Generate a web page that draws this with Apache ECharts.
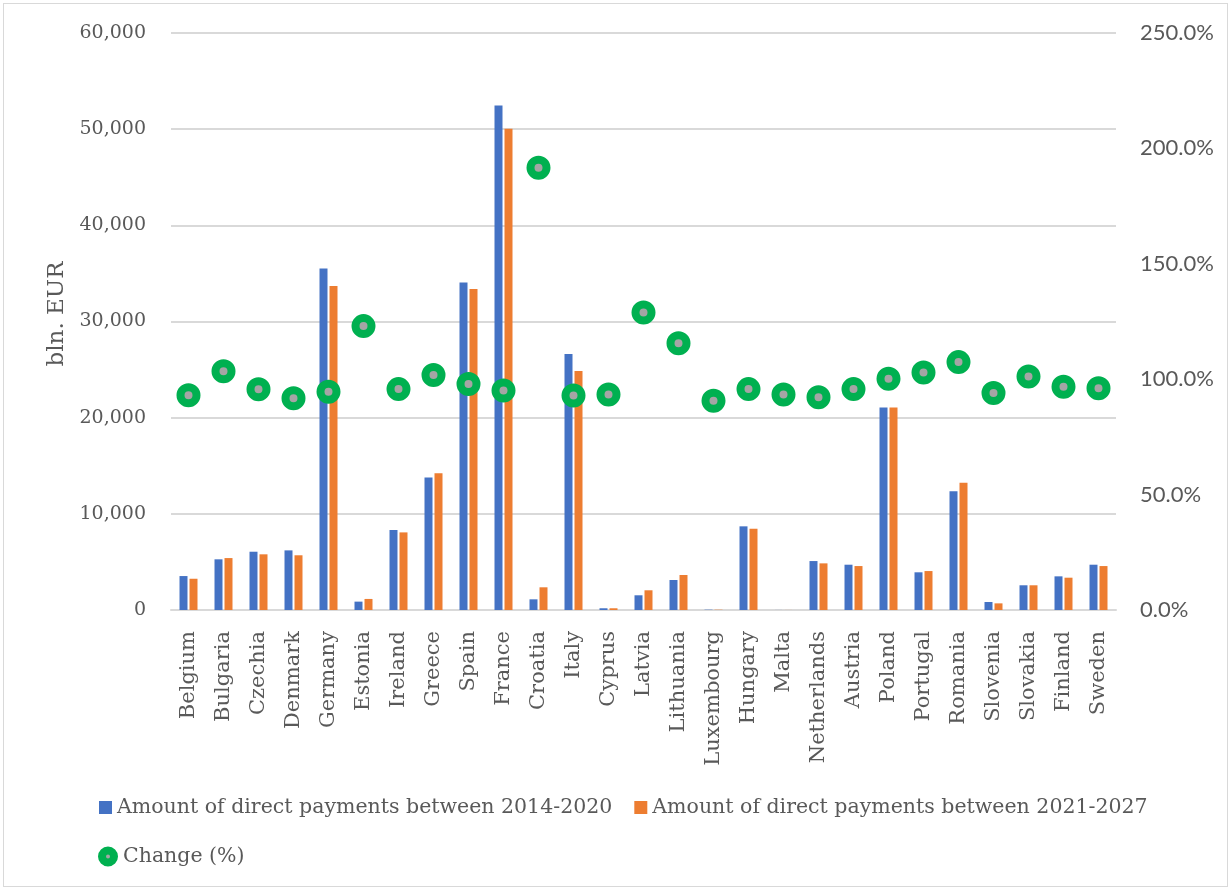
<!DOCTYPE html>
<html><head><meta charset="utf-8">
<script src="https://cdn.jsdelivr.net/npm/echarts@6/dist/echarts.min.js"></script>
<style>
html,body{margin:0;padding:0;background:#fff;}
#frame{position:absolute;left:3px;top:3px;width:1223px;height:882px;border:1px solid #d9d9d9;}
#c{position:absolute;left:0;top:0;width:1231px;height:890px;}
</style></head>
<body>
<div id="frame"></div>
<div id="c"></div>
<script>
const countries = ["Belgium","Bulgaria","Czechia","Denmark","Germany","Estonia","Ireland","Greece","Spain","France","Croatia","Italy","Cyprus","Latvia","Lithuania","Luxembourg","Hungary","Malta","Netherlands","Austria","Poland","Portugal","Romania","Slovenia","Slovakia","Finland","Sweden"];
const payments2014_2020 = [3530,5270,6060,6200,35520,870,8320,13790,34060,52460,1110,26610,180,1530,3120,33,8700,5,5090,4710,21070,3920,12340,830,2570,3500,4710];
const payments2021_2027 = [3250,5400,5790,5690,33680,1150,8070,14210,33370,50040,2360,24840,180,2050,3640,30,8450,5,4850,4570,21070,4050,13240,690,2570,3360,4570];
const changePct = [93.0,103.4,95.6,91.7,94.6,123.0,95.7,101.8,97.9,95.1,191.6,92.9,93.4,128.9,115.6,90.7,95.7,93.4,92.2,95.7,100.2,102.9,107.4,94.0,101.2,96.7,96.1];
const leftTicks = {min:0,max:60000,interval:10000};
const rightTicks = {min:0,max:250,interval:50};
const seriesNames = ["Amount of direct payments between 2014-2020","Amount of direct payments between 2021-2027","Change (%)"];
const yAxisTitle = "bln. EUR";

const serif = "DejaVu Serif";
const txt = "#595959";
const chart = echarts.init(document.getElementById('c'));
chart.setOption({
  animation:false,
  grid:{left:171,right:115,top:33,bottom:280,containLabel:false},
  legend:[
    {data:[seriesNames[0],seriesNames[1]],left:99,top:797,itemWidth:13,itemHeight:13,itemGap:22,
     icon:'rect',textStyle:{fontFamily:serif,fontSize:20.5,color:txt},padding:0},
    {data:[{name:seriesNames[2],itemStyle:{color:'#a5a5a5',borderColor:'#00b050',borderWidth:8}}],
     left:98,top:846,itemWidth:12,itemHeight:12,icon:'circle',
     textStyle:{fontFamily:serif,fontSize:20.5,color:txt,padding:[0,0,0,4]},padding:0}
  ],
  xAxis:{type:'category',data:countries,
    axisLine:{lineStyle:{color:'#d9d9d9',width:2}},axisTick:{show:false},
    axisLabel:{rotate:90,interval:0,fontFamily:serif,fontSize:21,color:txt,margin:21}},
  yAxis:[
    {type:'value',min:leftTicks.min,max:leftTicks.max,interval:leftTicks.interval,
     axisLabel:{fontFamily:serif,fontSize:19,color:txt,margin:25,
       formatter:v=>v.toLocaleString('en-US')},
     splitLine:{lineStyle:{color:'#d9d9d9',width:2}},axisLine:{show:false},axisTick:{show:false}},
    {type:'value',min:rightTicks.min,max:rightTicks.max,interval:rightTicks.interval,
     axisLabel:{fontFamily:'Lato',fontSize:22,color:txt,margin:24,
       formatter:v=>v.toFixed(1)+'%'},
     splitLine:{show:false},axisLine:{show:false},axisTick:{show:false}}
  ],
  graphic:[{type:'text',x:57,y:314,rotation:Math.PI/2,
    style:{text:yAxisTitle,fontFamily:serif,fontSize:23,fill:txt,textAlign:'center',textVerticalAlign:'middle'}}],
  series:[
    {name:seriesNames[0],type:'bar',data:payments2014_2020,barWidth:8,barGap:'25%',
     itemStyle:{color:'#4472c4'}},
    {name:seriesNames[1],type:'bar',data:payments2021_2027,barWidth:8,barGap:'25%',
     itemStyle:{color:'#ed7d31'}},
    {name:seriesNames[2],type:'scatter',yAxisIndex:1,data:changePct,symbol:'circle',symbolSize:16,
     itemStyle:{color:'#a5a5a5',borderColor:'#00b050',borderWidth:8,opacity:1},z:5}
  ]
});
</script>
</body></html>
